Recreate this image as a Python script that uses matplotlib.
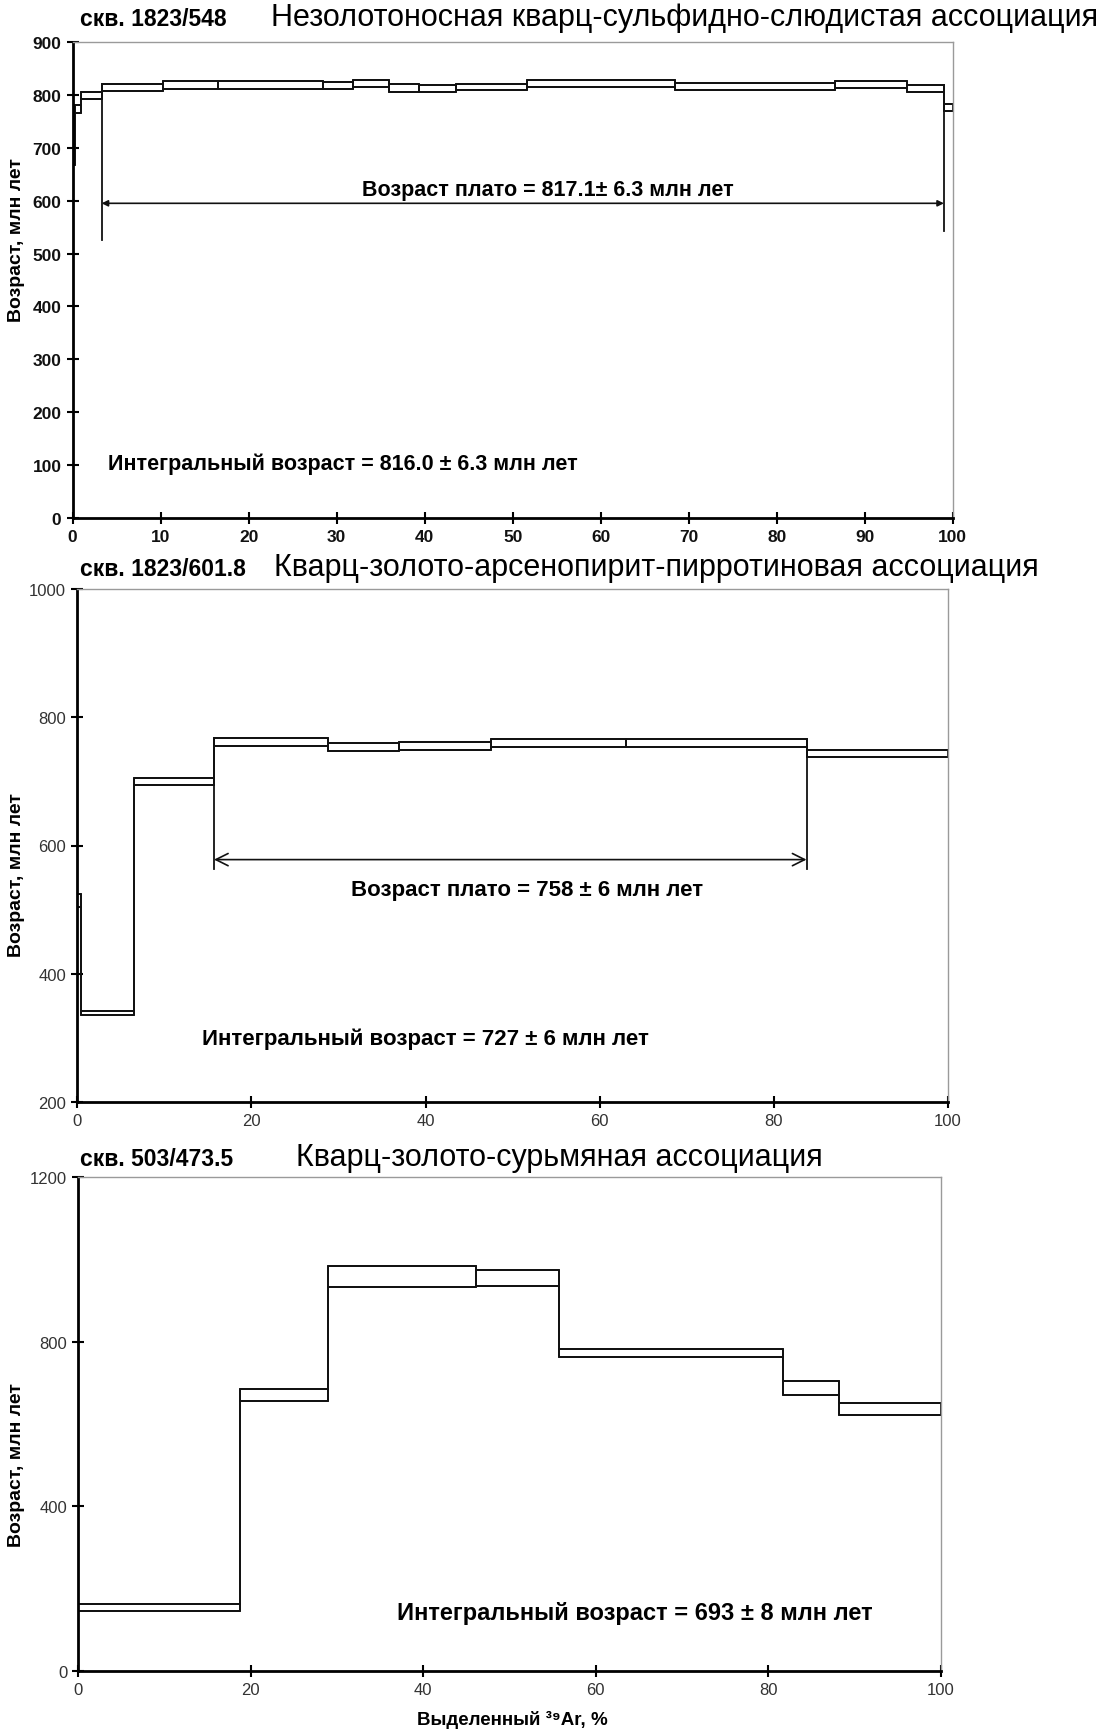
import numpy as np
import matplotlib
matplotlib.use('Agg')
import matplotlib.pyplot as plt
from matplotlib.patches import Rectangle

plt.rcParams['font.family'] = ['Liberation Sans', 'DejaVu Sans']

# скв. 1823/548 - step edges (% 39Ar), upper / lower age
edges1 = [0, 0.3, 0.9, 3.3, 10.3, 16.5, 28.5, 31.9, 35.9, 39.4, 43.6, 51.6, 68.5, 86.6, 94.8, 99.0, 100]
hi1 = [707, 780, 805, 821, 826, 826, 824, 828, 820, 819, 821, 828, 823, 827, 818, 782]
lo1 = [668, 766, 792, 808, 812, 811, 811, 814, 806, 806, 809, 814, 810, 813, 805, 769]

# скв. 1823/601.8
edges2 = [0, 0.4, 6.5, 15.7, 28.8, 36.9, 47.5, 63.0, 83.75, 100]
hi2 = [524, 342, 705, 767, 760, 761, 766, 766, 749]
lo2 = [504, 335, 694, 755, 748, 749, 754, 754, 738]

# скв. 503/473.5
edges3 = [0, 18.7, 29.0, 46.1, 55.8, 81.7, 88.2, 100]
hi3 = [163, 686, 983, 975, 782, 705, 652]
lo3 = [145, 657, 932, 936, 762, 670, 622]

W, H = 1106, 1733
fig = plt.figure(figsize=(W / 100, H / 100), dpi=100)


def box(l, t, r, b):
    return [l / W, 1 - b / H, (r - l) / W, (b - t) / H]


def style(ax, bold):
    for s in ['top', 'right']:
        ax.spines[s].set_color('#9a9a9a')
        ax.spines[s].set_linewidth(1.0)
    for s in ['left', 'bottom']:
        ax.spines[s].set_color('black')
        ax.spines[s].set_linewidth(2.0)
    ax.tick_params(direction='inout', length=8, width=1.5, colors='black',
                   labelsize=12.5 if bold else 12, pad=4)
    for lab in ax.get_xticklabels() + ax.get_yticklabels():
        lab.set_fontweight('bold' if bold else 'normal')
        lab.set_color('#111111' if bold else '#333333')


def draw_steps(ax, edges, hi, lo):
    edges = np.asarray(edges, float)
    hi = np.asarray(hi, float)
    lo = np.asarray(lo, float)
    for i in range(len(hi)):
        ax.add_patch(Rectangle((edges[i], lo[i]), edges[i + 1] - edges[i], hi[i] - lo[i],
                               fill=False, ec='#111111', lw=1.3))
    ax.step(edges, np.r_[hi, hi[-1]], where='post', color='#111111', lw=1.3)
    ax.step(edges, np.r_[lo, lo[-1]], where='post', color='#111111', lw=1.3)


def plateau(ax, x0, x1, y_arrow, y0_end, y1_end, top0, top1, style_, ms):
    ax.plot([x0, x0], [y0_end, top0], color='#111111', lw=1.3)
    ax.plot([x1, x1], [y1_end, top1], color='#111111', lw=1.3)
    ax.annotate('', xy=(x0, y_arrow), xytext=(x1, y_arrow),
                arrowprops=dict(arrowstyle=style_, color='#111111', lw=1.2,
                                mutation_scale=ms, shrinkA=0, shrinkB=0))


# panel 1
ax1 = fig.add_axes(box(72.6, 43, 952.7, 519))
draw_steps(ax1, edges1, hi1, lo1)
ax1.set_xlim(0, 100)
ax1.set_ylim(0, 900)
ax1.set_xticks(range(0, 101, 10))
ax1.set_yticks(range(0, 901, 100))
plateau(ax1, edges1[3], edges1[15], 595, 526, 543, hi1[3], hi1[14], '<|-|>', 9)
ax1.text(54, 622, 'Возраст плато = 817.1± 6.3 млн лет', ha='center', va='center',
         fontsize=15.5, fontweight='bold')
ax1.text(30.7, 104, 'Интегральный возраст = 816.0 ± 6.3 млн лет', ha='center', va='center',
         fontsize=15.5, fontweight='bold')
style(ax1, True)

# panel 2
ax2 = fig.add_axes(box(77.3, 590, 948, 1103))
draw_steps(ax2, edges2, hi2, lo2)
ax2.set_xlim(0, 100)
ax2.set_ylim(200, 1000)
ax2.set_xticks(range(0, 101, 20))
ax2.set_yticks(range(200, 1001, 200))
plateau(ax2, edges2[3], edges2[8], 578, 564, 564, hi2[3], hi2[7], '<->', 22)
ax2.text(51.7, 532, 'Возраст плато = 758 ± 6 млн лет', ha='center', va='center',
         fontsize=16, fontweight='bold')
ax2.text(40, 300, 'Интегральный возраст = 727 ± 6 млн лет', ha='center', va='center',
         fontsize=16, fontweight='bold')
style(ax2, False)

# panel 3
ax3 = fig.add_axes(box(78.3, 1178, 940.5, 1672))
draw_steps(ax3, edges3, hi3, lo3)
ax3.set_xlim(0, 100)
ax3.set_ylim(0, 1200)
ax3.set_xticks(range(0, 101, 20))
ax3.set_yticks(range(0, 1201, 400))
ax3.text(64.5, 143, 'Интегральный возраст = 693 ± 8 млн лет', ha='center', va='center',
         fontsize=17, fontweight='bold')
style(ax3, False)

# titles
titles = [
    ('скв. 1823/548', 'Незолотоносная кварц-сульфидно-слюдистая ассоциация', 20, 271),
    ('скв. 1823/601.8', 'Кварц-золото-арсенопирит-пирротиновая ассоциация', 570, 274),
    ('скв. 503/473.5', 'Кварц-золото-сурьмяная ассоциация', 1160, 296),
]
for well, assoc, yc, xa in titles:
    fig.text(80 / W, 1 - yc / H, well, ha='left', va='center', fontsize=16.5, fontweight='bold')
    fig.text(xa / W, 1 - (yc - 2) / H, assoc, ha='left', va='center', fontsize=22)

for yc in [240, 875, 1465]:
    fig.text(17 / W, 1 - yc / H, 'Возраст, млн лет', rotation=90, ha='center', va='center',
             fontsize=14, fontweight='bold')

fig.text(512 / W, 1 - 1720 / H, 'Выделенный ³⁹Ar, %', ha='center', va='center',
         fontsize=13.5, fontweight='bold')

fig.savefig('out.png', dpi=100)
